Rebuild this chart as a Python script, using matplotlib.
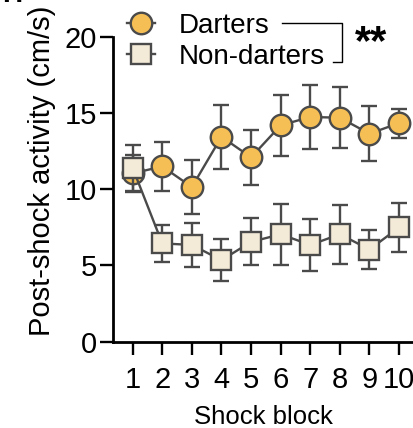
import matplotlib
matplotlib.use('Agg')
import matplotlib.pyplot as plt
from matplotlib.lines import Line2D

plt.rcParams['font.family'] = ['Liberation Sans', 'DejaVu Sans']

# shock blocks and group means / errors (cm/s)
blocks = [1, 2, 3, 4, 5, 6, 7, 8, 9, 10]
darters_mean = [11.05, 11.5, 10.15, 13.45, 12.1, 14.2, 14.75, 14.7, 13.65, 14.35]
darters_err = [1.2, 1.6, 1.75, 2.1, 1.8, 2.0, 2.1, 2.0, 1.8, 0.95]
nondarters_mean = [11.4, 6.45, 6.35, 5.35, 6.55, 7.05, 6.35, 7.05, 6.05, 7.5]
nondarters_err = [1.5, 1.2, 1.45, 1.4, 1.55, 2.0, 1.7, 1.95, 1.3, 1.6]

edge = '#4a4a4a'
darter_col = '#f5bf55'
nondarter_col = '#f3ead8'

fig = plt.figure(figsize=(4.13, 4.28), dpi=100)
ax = fig.add_axes([0.2736, 0.2017, 0.7264, 0.7119])

ax.errorbar(blocks, darters_mean, yerr=darters_err, fmt='-o', color=edge,
            mfc=darter_col, mec=edge, mew=1.7, ms=15.5, lw=1.7,
            elinewidth=1.7, capsize=5.5, capthick=1.7, zorder=3)
ax.errorbar(blocks, nondarters_mean, yerr=nondarters_err, fmt='-s', color=edge,
            mfc=nondarter_col, mec=edge, mew=1.7, ms=14.5, lw=1.7,
            elinewidth=1.7, capsize=5.5, capthick=1.7, zorder=4)

ax.set_xlim(0.335, 10.47)
ax.set_ylim(0, 20)
ax.set_yticks([0, 5, 10, 15, 20])
ax.set_xticks(blocks)
ax.set_xlabel('Shock block', fontsize=18.5, labelpad=8)
ax.set_ylabel('Post-shock activity (cm/s)', fontsize=21)
ax.yaxis.set_label_coords(-0.19, 0.56)
ax.tick_params(labelsize=21, width=1.7, length=9.4, pad=8, color='black')
ax.tick_params(axis='y', pad=2)
for side in ['top', 'right']:
    ax.spines[side].set_visible(False)
for side in ['left', 'bottom']:
    ax.spines[side].set_linewidth(2)

handles = [
    Line2D([], [], color=edge, marker='o', mfc=darter_col, mec=edge, mew=1.7, ms=15.5, lw=1.7),
    Line2D([], [], color=edge, marker='s', mfc=nondarter_col, mec=edge, mew=1.7, ms=14.5, lw=1.7),
]
ax.legend(handles, ['Darters', 'Non-darters'], loc='upper left',
          bbox_to_anchor=(0.046, 1.08), frameon=False, fontsize=20,
          handlelength=1.0, handletextpad=0.86, labelspacing=0.18,
          borderpad=0, borderaxespad=0)

# significance bracket
ax.plot([0.563, 0.763, 0.763, 0.733], [1.046, 1.046, 0.918, 0.918],
        transform=ax.transAxes, color='black', lw=1.0, clip_on=False)
ax.text(0.86, 0.98, '**', transform=ax.transAxes, fontsize=30,
        fontweight='bold', ha='center', va='center')

fig.text(0.005, 1.012, 'H', fontsize=20, fontweight='bold', va='center', ha='left')

fig.savefig('out.png', dpi=100)
